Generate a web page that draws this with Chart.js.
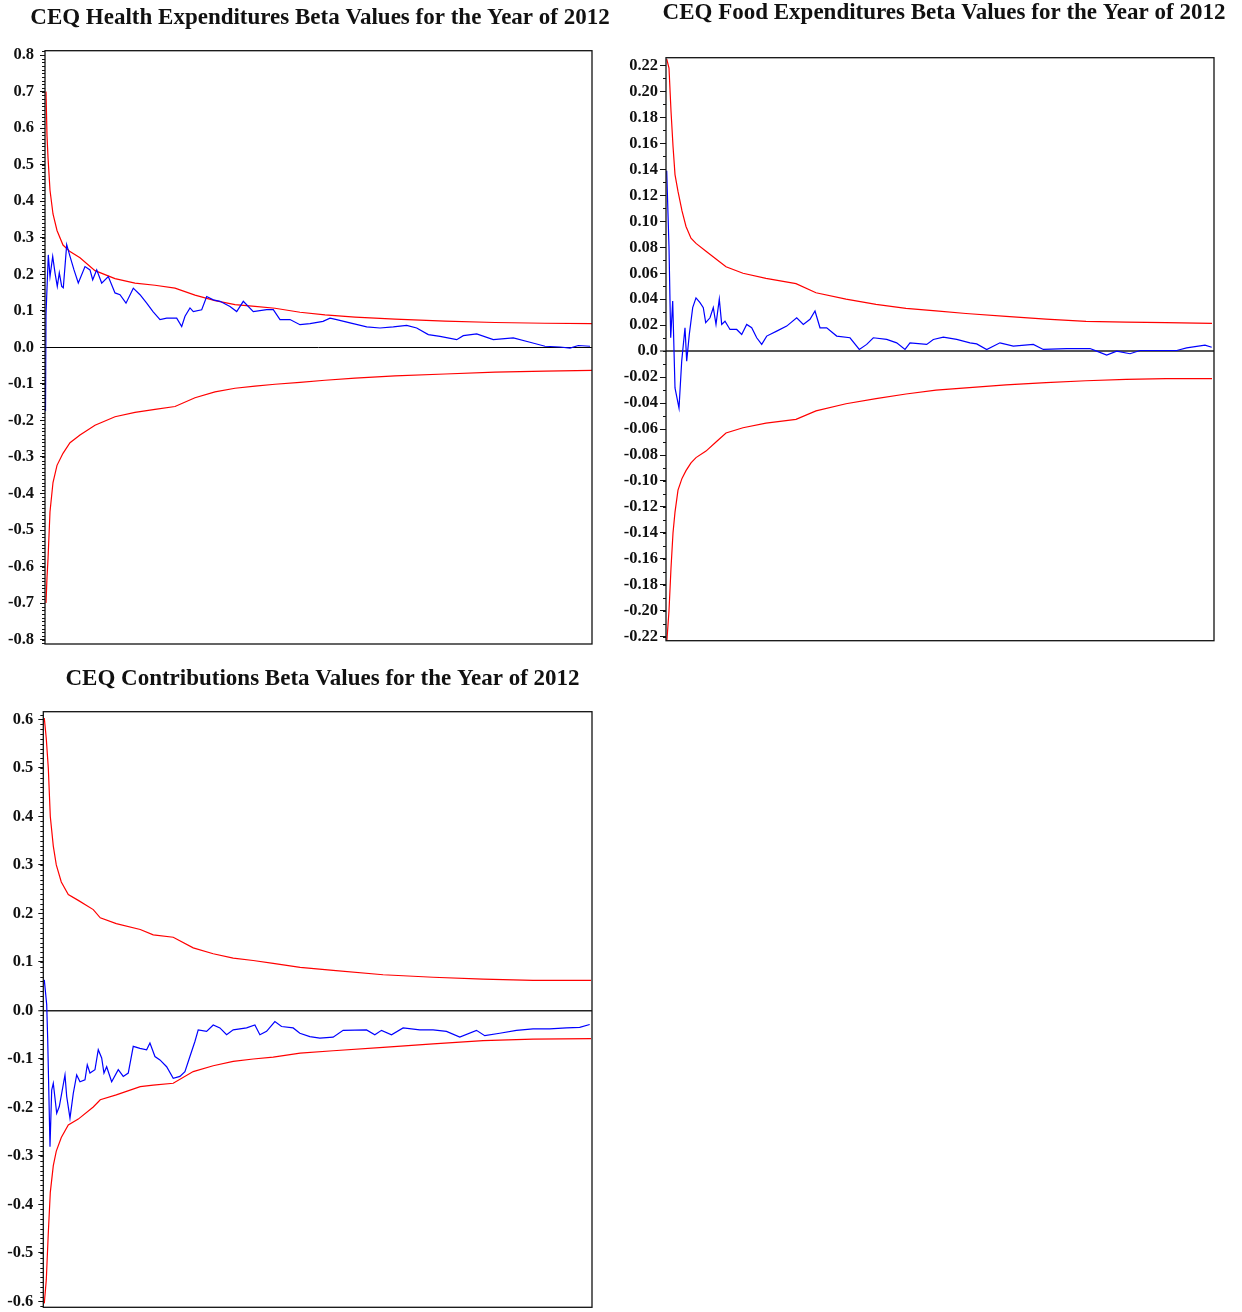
<!DOCTYPE html>
<html>
<head>
<meta charset="utf-8">
<title>CEQ Beta Values 2012</title>
<script src="https://cdn.jsdelivr.net/npm/chart.js@4.4.0/dist/chart.umd.min.js"></script>
<style>
  html, body { margin: 0; padding: 0; background: #fff; }
  body { width: 1242px; height: 1312px; overflow: hidden; position: relative; }
  .wrap { position: absolute; }
</style>
</head>
<body>

<div class="wrap" style="left:0;top:0;width:640px;height:650px"><canvas id="healthChart"></canvas></div>
<div class="wrap" style="left:620px;top:0;width:648px;height:647px"><canvas id="foodChart"></canvas></div>
<div class="wrap" style="left:0;top:656px;width:645px;height:656px"><canvas id="contribChart"></canvas></div>

<script>
/*=========================================
DATA
=========================================*/

// x = observation position along the recursive estimation

const healthBandX = [1, 2, 3, 5, 8, 12, 18, 25, 35, 50, 70, 90, 110, 130, 150, 170, 190, 210, 230, 255, 280, 310, 350, 400, 450, 500, 547];
const healthUpper = [0.70, 0.58, 0.52, 0.43, 0.365, 0.32, 0.28, 0.262, 0.245, 0.21, 0.188, 0.176, 0.17, 0.162, 0.143, 0.128, 0.117, 0.112, 0.107, 0.096, 0.089, 0.083, 0.077, 0.072, 0.068, 0.066, 0.065];
const healthLower = [-0.70, -0.63, -0.58, -0.45, -0.37, -0.323, -0.29, -0.261, -0.24, -0.213, -0.19, -0.178, -0.17, -0.162, -0.138, -0.122, -0.112, -0.106, -0.101, -0.096, -0.090, -0.084, -0.078, -0.073, -0.068, -0.065, -0.063];

const healthBetaX = [0.5, 1, 3.3, 5, 7.7, 10, 12.3, 14.3, 16.7, 18.3, 21.7, 25, 29, 33.3, 40, 45, 47.7, 51.7, 56.7, 63.3, 70, 75, 81, 88.3, 95, 101.7, 108, 115, 121.7, 131.7, 136.7, 140, 145, 148.3, 156.7, 161.7, 168.3, 175, 185, 191.7, 198.3, 208.3, 221.7, 228.3, 235, 245, 255, 265, 278, 285, 291.7, 305, 321.7, 335, 348.3, 361.7, 371.7, 383.3, 395, 411.7, 418.3, 431.7, 448.3, 468.3, 485, 500, 515, 525, 533.3, 545];
const healthBeta = [-0.175, 0.09, 0.253, 0.194, 0.249, 0.204, 0.167, 0.204, 0.167, 0.163, 0.281, 0.249, 0.212, 0.176, 0.221, 0.212, 0.185, 0.212, 0.176, 0.194, 0.149, 0.144, 0.121, 0.162, 0.144, 0.121, 0.098, 0.076, 0.080, 0.080, 0.057, 0.085, 0.108, 0.098, 0.103, 0.139, 0.130, 0.126, 0.112, 0.098, 0.126, 0.098, 0.103, 0.103, 0.076, 0.076, 0.062, 0.065, 0.071, 0.080, 0.076, 0.067, 0.056, 0.053, 0.056, 0.060, 0.053, 0.035, 0.030, 0.021, 0.032, 0.037, 0.021, 0.026, 0.014, 0.003, 0.001, -0.002, 0.005, 0.003];

const foodBandX = [0.7, 3, 5, 7, 9, 12, 16, 20, 25, 30, 40, 50, 60, 77, 100, 130, 150, 180, 210, 240, 270, 300, 340, 380, 420, 460, 500, 546];
const foodUpper = [0.225, 0.218, 0.185, 0.158, 0.136, 0.123, 0.108, 0.096, 0.087, 0.083, 0.077, 0.071, 0.065, 0.060, 0.056, 0.052, 0.045, 0.040, 0.036, 0.033, 0.031, 0.029, 0.0268, 0.0247, 0.023, 0.0224, 0.022, 0.0214];
const foodLower = [-0.225, -0.200, -0.167, -0.140, -0.124, -0.107, -0.098, -0.092, -0.086, -0.082, -0.077, -0.070, -0.063, -0.059, -0.0555, -0.0525, -0.046, -0.0405, -0.0365, -0.033, -0.030, -0.0283, -0.026, -0.0242, -0.0228, -0.0218, -0.0212, -0.0211];

const foodBetaX = [0.7, 3, 4.7, 6.7, 9, 13, 15.7, 19, 20.7, 23.3, 26.7, 30, 34, 37.3, 39.7, 44, 47.3, 50, 53.3, 55.7, 59, 64, 70.7, 75.7, 80.7, 85.7, 90.7, 95.7, 100.7, 110.7, 120.7, 130.7, 137.3, 144, 149, 154, 160.7, 170.7, 184, 193.3, 200.7, 207.3, 220.7, 230.7, 239, 244, 260.7, 267.3, 277.3, 290.7, 304, 310.7, 320.7, 334, 347.3, 367.3, 377.3, 400.7, 424, 430.7, 440.7, 450.7, 464, 474, 510.7, 520.7, 539, 545.7];
const foodBeta = [0.139, 0.080, 0.0103, 0.0386, -0.0283, -0.0438, -0.0077, 0.018, -0.0077, 0.0129, 0.0335, 0.041, 0.0373, 0.0335, 0.0219, 0.0257, 0.0335, 0.0206, 0.040, 0.0206, 0.023, 0.0167, 0.0167, 0.0129, 0.0206, 0.018, 0.0103, 0.0052, 0.0116, 0.0154, 0.0193, 0.0257, 0.0206, 0.0245, 0.0309, 0.018, 0.018, 0.0116, 0.0103, 0.0013, 0.0052, 0.0103, 0.009, 0.0064, 0.0013, 0.0064, 0.0052, 0.009, 0.0108, 0.009, 0.0064, 0.0056, 0.0013, 0.0064, 0.0039, 0.0052, 0.0013, 0.002, 0.002, 0.0, -0.0031, 0.0, -0.002, 0.0005, 0.0005, 0.0025, 0.0046, 0.003];

const contribBandX = [1, 3, 5, 7, 10, 13, 18, 25, 35, 50, 57, 73, 97, 110, 130, 150, 170, 190, 210, 230, 257, 290, 340, 390, 440, 490, 548];
const contribUpper = [0.603, 0.56, 0.50, 0.40, 0.339, 0.30, 0.265, 0.239, 0.227, 0.208, 0.191, 0.179, 0.167, 0.156, 0.151, 0.129, 0.117, 0.108, 0.103, 0.097, 0.0888, 0.0826, 0.0737, 0.0685, 0.0645, 0.0619, 0.0619];
const contribLower = [-0.604, -0.555, -0.459, -0.375, -0.32, -0.29, -0.262, -0.236, -0.224, -0.199, -0.184, -0.174, -0.157, -0.154, -0.150, -0.126, -0.114, -0.105, -0.100, -0.096, -0.088, -0.083, -0.076, -0.069, -0.062, -0.059, -0.058];

const contribBetaX = [1, 3.4, 4.4, 6.7, 8.4, 10, 13.4, 16, 18.4, 21.7, 23.4, 26.7, 30, 33.4, 36.7, 41.7, 44, 46.7, 51.7, 55, 58.4, 60.7, 63.4, 68.4, 75, 80, 85, 90, 96.7, 103.4, 106.7, 111.7, 116.7, 123.4, 130, 136.7, 141.7, 146.7, 151.7, 155, 163.4, 170, 176.7, 183.4, 190, 203.4, 211.7, 216.7, 223.4, 231.7, 238.4, 250, 256.7, 266.7, 276.7, 290, 300, 323.4, 331.7, 338.4, 348.4, 360, 376.7, 390, 403.4, 416.7, 433.4, 441.7, 456.7, 473.4, 490, 506.7, 523.4, 536.7, 546.7];
const contribBeta = [0.063, 0.012, -0.06, -0.281, -0.164, -0.150, -0.212, -0.198, -0.171, -0.133, -0.177, -0.222, -0.171, -0.133, -0.147, -0.143, -0.112, -0.129, -0.122, -0.081, -0.098, -0.129, -0.116, -0.147, -0.122, -0.136, -0.129, -0.074, -0.078, -0.081, -0.067, -0.095, -0.102, -0.116, -0.140, -0.136, -0.126, -0.095, -0.064, -0.040, -0.043, -0.030, -0.036, -0.050, -0.040, -0.036, -0.030, -0.050, -0.043, -0.023, -0.033, -0.036, -0.047, -0.054, -0.057, -0.055, -0.041, -0.040, -0.050, -0.041, -0.050, -0.036, -0.040, -0.040, -0.043, -0.055, -0.041, -0.052, -0.047, -0.041, -0.038, -0.038, -0.036, -0.035, -0.029];

/*=========================================
HELPERS
=========================================*/

const SERIF = "'Liberation Serif', 'Times New Roman', serif";

const toPoints = (xs, ys) => xs.map((x, i) => ({ x: x, y: ys[i] }));

// box round the plot area plus the small minor ticks on the y axis
const framePlugin = {

  id: "frame",

  afterDraw(chart, args, opts) {

    const { ctx, chartArea: a } = chart;
    const y = chart.scales.y;

    ctx.save();

    ctx.strokeStyle = "#111";
    ctx.lineWidth = 1;
    ctx.beginPath();

    const step = opts.minorStep;
    const first = Math.ceil(y.min / step - 1e-6);
    const last = Math.floor(y.max / step + 1e-6);

    for (let i = first; i <= last; i++) {
      const py = Math.round(y.getPixelForValue(i * step)) + 0.5;
      ctx.moveTo(a.left - opts.minorLen, py);
      ctx.lineTo(a.left, py);
    }

    ctx.stroke();

    ctx.lineWidth = 1.3;
    ctx.strokeRect(a.left, a.top, a.right - a.left, a.bottom - a.top);

    ctx.restore();

  }

};

function betaChart(id, cfg) {

  return new Chart(document.getElementById(id), {

    type: "line",

    data: {
      datasets: [
        {
          data: toPoints(cfg.betaX, cfg.beta),
          borderColor: "#0000ff",
          borderWidth: 1.2
        },
        {
          data: toPoints(cfg.bandX, cfg.upper),
          borderColor: "#ff0000",
          borderWidth: 1.2
        },
        {
          data: toPoints(cfg.bandX, cfg.lower),
          borderColor: "#ff0000",
          borderWidth: 1.2
        }
      ]
    },

    options: {

      responsive: true,
      maintainAspectRatio: false,
      animation: false,

      elements: {
        point: { radius: 0 },
        line: { tension: 0 }
      },

      layout: {
        padding: { left: 0, right: 0, top: 0, bottom: cfg.padBottom }
      },

      scales: {

        x: {
          type: "linear",
          display: false,
          min: 0,
          max: cfg.xMax
        },

        y: {
          min: cfg.yMin,
          max: cfg.yMax,
          afterFit: (scale) => {
            scale.width = cfg.axisWidth;
            scale.paddingTop = 0;
            scale.paddingBottom = 0;
          },
          border: { display: false },
          grid: {
            drawOnChartArea: true,
            color: (ctx) => (ctx.tick && ctx.tick.value === 0 ? cfg.zeroColor : "rgba(0,0,0,0)"),
            lineWidth: (ctx) => (ctx.tick && ctx.tick.value === 0 ? cfg.zeroWidth : 1),
            tickColor: "#111",
            tickWidth: 1,
            tickLength: cfg.tickLength
          },
          ticks: {
            stepSize: cfg.majorStep,
            includeBounds: false,
            autoSkip: false,
            padding: cfg.tickPadding,
            color: "#111",
            font: { family: SERIF, size: 16.5, weight: "bold" },
            callback: cfg.label
          }
        },

        // empty right-hand axis, only keeps the margin so the title can centre on the canvas
        yRight: {
          position: "right",
          afterFit: (scale) => {
            scale.width = cfg.rightWidth;
            scale.paddingTop = 0;
            scale.paddingBottom = 0;
          },
          border: { display: false },
          grid: { display: false },
          ticks: { display: false }
        }

      },

      plugins: {

        legend: { display: false },
        tooltip: { enabled: false },

        title: {
          display: true,
          text: cfg.title,
          color: "#111",
          font: { family: SERIF, size: 23, weight: "bold", lineHeight: 1 },
          padding: cfg.titlePad
        },

        frame: {
          minorStep: cfg.minorStep,
          minorLen: 3
        }

      }

    },

    plugins: [framePlugin]

  });

}

/*=========================================
HEALTH CHART
=========================================*/

betaChart("healthChart", {
  title: "CEQ Health Expenditures Beta Values for the Year of 2012",
  betaX: healthBetaX, beta: healthBeta,
  bandX: healthBandX, upper: healthUpper, lower: healthLower,
  xMax: 547,
  yMin: -0.812, yMax: 0.812,
  majorStep: 0.1, minorStep: 0.01,
  label: (v) => v.toFixed(1),
  axisWidth: 45, rightWidth: 48, tickLength: 5, tickPadding: 6,
  zeroColor: "#000", zeroWidth: 1,
  padBottom: 6,
  titlePad: { top: 7, bottom: 20.7 }
});

/*=========================================
FOOD CHART
=========================================*/

betaChart("foodChart", {
  title: "CEQ Food Expenditures Beta Values for the Year of 2012",
  betaX: foodBetaX, beta: foodBeta,
  bandX: foodBandX, upper: foodUpper, lower: foodLower,
  xMax: 548,
  yMin: -0.223, yMax: 0.226,
  majorStep: 0.02, minorStep: 0.01,
  label: (v) => (v === 0 ? "0.0" : v.toFixed(2)),
  axisWidth: 46, rightWidth: 54, tickLength: 6, tickPadding: 2,
  zeroColor: "#555", zeroWidth: 2,
  padBottom: 6.3,
  titlePad: { top: 2, bottom: 32.7 }
});

/*=========================================
CONTRIBUTIONS CHART
=========================================*/

betaChart("contribChart", {
  title: "CEQ Contributions Beta Values for the Year of 2012",
  betaX: contribBetaX, beta: contribBeta,
  bandX: contribBandX, upper: contribUpper, lower: contribLower,
  xMax: 549,
  yMin: -0.612, yMax: 0.616,
  majorStep: 0.1, minorStep: 0.01,
  label: (v) => v.toFixed(1),
  axisWidth: 43.3, rightWidth: 53, tickLength: 5, tickPadding: 5,
  zeroColor: "#222", zeroWidth: 1.5,
  padBottom: 4.7,
  titlePad: { top: 11.5, bottom: 21.2 }
});
</script>

</body>
</html>
